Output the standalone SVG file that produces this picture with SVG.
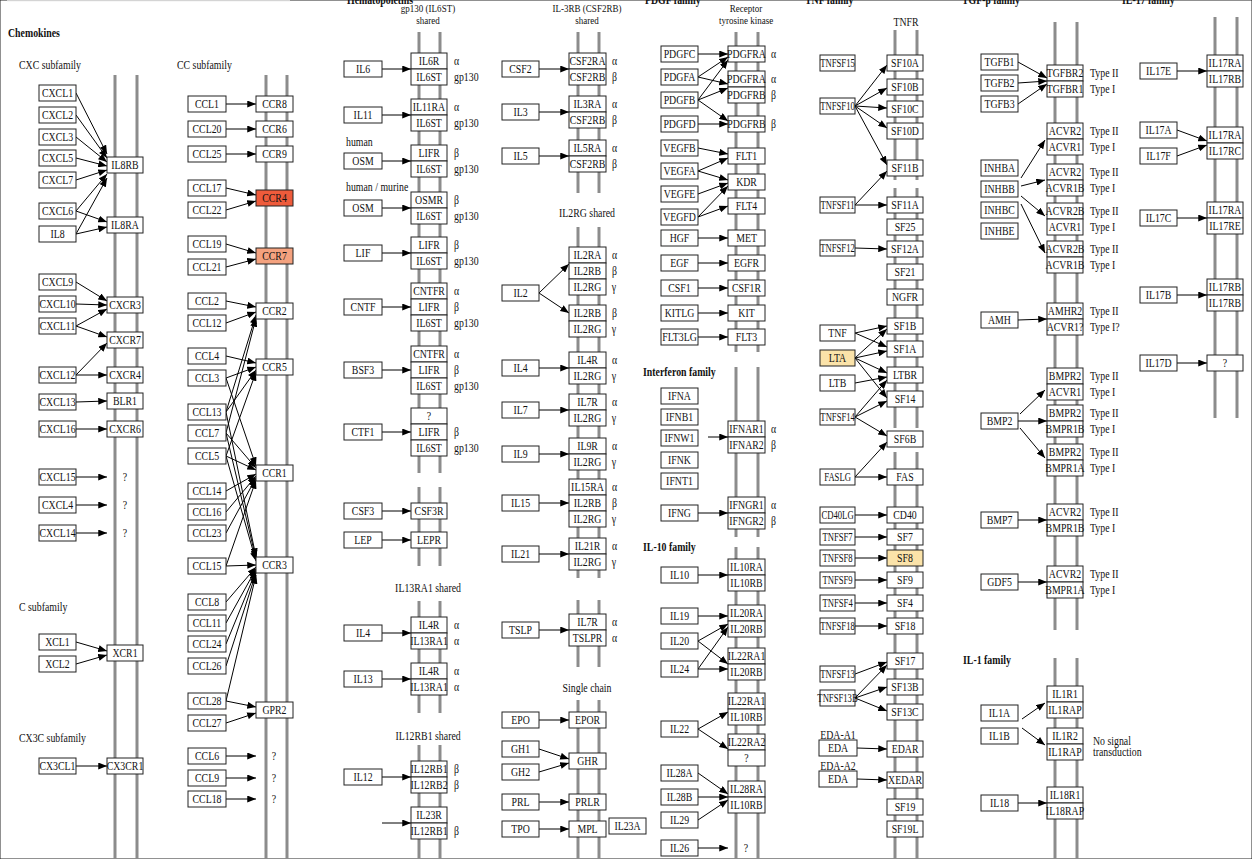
<svg xmlns="http://www.w3.org/2000/svg" width="1252" height="859" viewBox="0 0 1252 859">
<style>
text{font-family:"Liberation Serif","Times New Roman",serif;font-size:12px;fill:#111}
.c{text-anchor:middle;transform-box:fill-box;transform-origin:center;transform:scaleX(.82)}
.l{transform-box:fill-box;transform-origin:left center;transform:scaleX(.82)}
.n{text-anchor:middle;transform-box:fill-box;transform-origin:center;transform:scaleX(.72)}
.s{font-size:11px}
.h{font-weight:bold}
rect{fill:#fff;stroke:#222;stroke-width:1}
rect.red{fill:#ee5b3b}rect.sal{fill:#f4a27f}rect.tan{fill:#fbe3a9}
rect.top{fill:#d4d4d4;stroke:none}
.mem line{stroke:#8c8c8c;stroke-width:3}
#connectors line{stroke:#000;stroke-width:1;marker-end:url(#ah)}
</style>
<defs>
<marker id="ah" viewBox="0 0 10 8" refX="10" refY="4" markerWidth="9" markerHeight="7" markerUnits="userSpaceOnUse" orient="auto"><path d="M0,0L10,4L0,8z" fill="#000"/></marker>
</defs>
<rect width="1252" height="859" fill="#fff" stroke="none"/>
<rect class="top" x="7" y="0" width="283" height="1.2"/>
<g id="labels">
<text class="l h" x="8" y="37">Chemokines</text>
<text class="l" x="19" y="69">CXC subfamily</text>
<text class="l" x="177" y="69">CC subfamily</text>
<text class="l" x="19" y="611">C subfamily</text>
<text class="l" x="19" y="742">CX3C subfamily</text>
<text class="l h" x="347" y="4">Hematopoietins</text>
<text class="c s" x="428" y="12">gp130 (IL6ST)</text>
<text class="c s" x="428" y="24.5">shared</text>
<text class="l" x="346" y="146">human</text>
<text class="l" x="346" y="191">human / murine</text>
<text class="c" x="428" y="592">IL13RA1 shared</text>
<text class="c" x="428" y="740">IL12RB1 shared</text>
<text class="c s" x="587" y="12">IL-3RB (CSF2RB)</text>
<text class="c s" x="587" y="24.5">shared</text>
<text class="c" x="587" y="217">IL2RG shared</text>
<text class="c" x="587" y="692">Single chain</text>
<text class="l h" x="645" y="4">PDGF family</text>
<text class="c s" x="746" y="12">Receptor</text>
<text class="c s" x="746" y="24.5">tyrosine kinase</text>
<text class="l h" x="643" y="376">Interferon family</text>
<text class="l h" x="643" y="551">IL-10 family</text>
<text class="l h" x="805" y="4">TNF family</text>
<text class="c" x="906" y="26">TNFR</text>
<text class="c" x="838" y="739">EDA-A1</text>
<text class="c" x="838" y="770">EDA-A2</text>
<text class="l h" x="962" y="4">TGF-β family</text>
<text class="l h" x="1122" y="4">IL-17 family</text>
<text class="l h" x="963" y="664">IL-1 family</text>
<text class="l" x="1093" y="745">No signal</text>
<text class="l" x="1093" y="756">transduction</text>
<text class="c" x="125" y="481">?</text><text class="c" x="125" y="509">?</text><text class="c" x="125" y="537">?</text>
<text class="c" x="274" y="760">?</text><text class="c" x="274" y="782">?</text><text class="c" x="274" y="803">?</text>
<text class="c" x="746" y="852">?</text>
</g>
<g class="mem" id="membranes">
<line x1="115" y1="75" x2="115" y2="859"/><line x1="137" y1="75" x2="137" y2="859"/>
<line x1="266" y1="75" x2="266" y2="859"/><line x1="287" y1="75" x2="287" y2="859"/>
<line x1="419" y1="32" x2="419" y2="473"/><line x1="440" y1="32" x2="440" y2="473"/>
<line x1="419" y1="487" x2="419" y2="566"/><line x1="440" y1="487" x2="440" y2="566"/>
<line x1="419" y1="601" x2="419" y2="713"/><line x1="440" y1="601" x2="440" y2="713"/>
<line x1="419" y1="745" x2="419" y2="859"/><line x1="440" y1="745" x2="440" y2="859"/>
<line x1="578" y1="32" x2="578" y2="193"/><line x1="599" y1="32" x2="599" y2="193"/>
<line x1="578" y1="227" x2="578" y2="578"/><line x1="599" y1="227" x2="599" y2="578"/>
<line x1="578" y1="600" x2="578" y2="667"/><line x1="599" y1="600" x2="599" y2="667"/>
<line x1="578" y1="700" x2="578" y2="859"/><line x1="599" y1="700" x2="599" y2="859"/>
<line x1="736" y1="32" x2="736" y2="352"/><line x1="758" y1="32" x2="758" y2="352"/>
<line x1="736" y1="367" x2="736" y2="537"/><line x1="758" y1="367" x2="758" y2="537"/>
<line x1="736" y1="547" x2="736" y2="859"/><line x1="758" y1="547" x2="758" y2="859"/>
<line x1="895" y1="30" x2="895" y2="180"/><line x1="917" y1="30" x2="917" y2="180"/>
<line x1="895" y1="188" x2="895" y2="428"/><line x1="917" y1="188" x2="917" y2="428"/>
<line x1="895" y1="452" x2="895" y2="859"/><line x1="917" y1="452" x2="917" y2="859"/>
<line x1="1055" y1="22" x2="1055" y2="630"/><line x1="1077" y1="22" x2="1077" y2="630"/>
<line x1="1055" y1="658" x2="1055" y2="859"/><line x1="1077" y1="658" x2="1077" y2="859"/>
<line x1="1215" y1="17" x2="1215" y2="418"/><line x1="1237" y1="17" x2="1237" y2="418"/>
</g>
<g id="connectors">
<line x1="76" y1="93" x2="107" y2="154"/><line x1="76" y1="115" x2="107" y2="158"/><line x1="76" y1="137" x2="107" y2="162"/>
<line x1="76" y1="158" x2="107" y2="166"/><line x1="76" y1="180" x2="107" y2="170"/><line x1="76" y1="211" x2="107" y2="174"/>
<line x1="76" y1="234" x2="107" y2="178"/><line x1="76" y1="211" x2="107" y2="222"/><line x1="76" y1="234" x2="107" y2="227"/>
<line x1="76" y1="282" x2="107" y2="301"/><line x1="76" y1="304" x2="107" y2="305"/><line x1="76" y1="326" x2="107" y2="309"/>
<line x1="76" y1="326" x2="107" y2="337"/><line x1="76" y1="375" x2="107" y2="343"/><line x1="76" y1="375" x2="107" y2="375"/>
<line x1="76" y1="402" x2="107" y2="401"/><line x1="76" y1="429" x2="107" y2="429"/><line x1="76" y1="477" x2="107" y2="477"/>
<line x1="76" y1="505" x2="107" y2="505"/><line x1="76" y1="533" x2="107" y2="533"/><line x1="76" y1="642" x2="107" y2="651"/>
<line x1="76" y1="664" x2="107" y2="655"/><line x1="76" y1="766" x2="107" y2="766"/>
<line x1="226" y1="104" x2="256" y2="104"/><line x1="226" y1="129" x2="256" y2="129"/><line x1="226" y1="154" x2="256" y2="154"/>
<line x1="226" y1="188" x2="256" y2="195"/><line x1="226" y1="210" x2="256" y2="201"/><line x1="226" y1="244" x2="256" y2="253"/>
<line x1="226" y1="267" x2="256" y2="259"/><line x1="226" y1="301" x2="256" y2="307"/><line x1="226" y1="323" x2="256" y2="312"/>
<line x1="226" y1="412" x2="256" y2="315"/><line x1="226" y1="433" x2="256" y2="318"/>
<line x1="226" y1="356" x2="256" y2="363"/><line x1="226" y1="378" x2="256" y2="367"/><line x1="226" y1="412" x2="256" y2="370"/>
<line x1="226" y1="456" x2="256" y2="372"/>
<line x1="226" y1="378" x2="256" y2="466"/><line x1="226" y1="433" x2="256" y2="468"/><line x1="226" y1="456" x2="256" y2="470"/>
<line x1="226" y1="491" x2="256" y2="474"/><line x1="226" y1="512" x2="256" y2="476"/><line x1="226" y1="533" x2="256" y2="478"/>
<line x1="226" y1="566" x2="256" y2="480"/>
<line x1="226" y1="412" x2="256" y2="557"/><line x1="226" y1="433" x2="256" y2="559"/><line x1="226" y1="456" x2="256" y2="561"/>
<line x1="226" y1="566" x2="256" y2="565"/><line x1="226" y1="602" x2="256" y2="567"/><line x1="226" y1="623" x2="256" y2="569"/>
<line x1="226" y1="644" x2="256" y2="571"/><line x1="226" y1="666" x2="256" y2="573"/><line x1="226" y1="701" x2="256" y2="575"/>
<line x1="226" y1="701" x2="256" y2="707"/><line x1="226" y1="723" x2="256" y2="713"/>
<line x1="226" y1="756" x2="256" y2="756"/><line x1="226" y1="778" x2="256" y2="778"/><line x1="226" y1="799" x2="256" y2="799"/>
<line x1="382" y1="69" x2="411" y2="69"/><line x1="382" y1="115" x2="411" y2="115"/><line x1="382" y1="161" x2="411" y2="161"/>
<line x1="382" y1="208" x2="411" y2="208"/><line x1="382" y1="253" x2="411" y2="253"/><line x1="382" y1="307" x2="411" y2="307"/>
<line x1="382" y1="370" x2="411" y2="370"/><line x1="382" y1="432" x2="411" y2="432"/><line x1="382" y1="511" x2="411" y2="511"/>
<line x1="382" y1="540" x2="411" y2="540"/><line x1="382" y1="633" x2="411" y2="633"/><line x1="382" y1="679" x2="411" y2="679"/>
<line x1="382" y1="777" x2="411" y2="777"/><line x1="382" y1="823" x2="411" y2="823"/>
<line x1="539" y1="69" x2="569" y2="69"/><line x1="539" y1="112" x2="569" y2="112"/><line x1="539" y1="156" x2="569" y2="156"/>
<line x1="539" y1="293" x2="569" y2="264"/><line x1="539" y1="293" x2="569" y2="313"/>
<line x1="539" y1="368" x2="569" y2="368"/><line x1="539" y1="410" x2="569" y2="410"/><line x1="539" y1="454" x2="569" y2="454"/>
<line x1="539" y1="503" x2="569" y2="503"/><line x1="539" y1="554" x2="569" y2="554"/><line x1="539" y1="630" x2="569" y2="630"/>
<line x1="539" y1="720" x2="569" y2="720"/><line x1="539" y1="749" x2="569" y2="759"/><line x1="539" y1="772" x2="569" y2="763"/>
<line x1="539" y1="802" x2="569" y2="802"/><line x1="539" y1="829" x2="569" y2="829"/>
<line x1="698" y1="54" x2="728" y2="54"/><line x1="698" y1="77" x2="728" y2="57"/><line x1="698" y1="77" x2="728" y2="84"/>
<line x1="698" y1="100" x2="728" y2="60"/><line x1="698" y1="100" x2="728" y2="88"/><line x1="698" y1="100" x2="728" y2="121"/>
<line x1="698" y1="124" x2="728" y2="124"/><line x1="698" y1="148" x2="728" y2="154"/><line x1="698" y1="171" x2="728" y2="158"/>
<line x1="698" y1="171" x2="728" y2="180"/><line x1="698" y1="194" x2="728" y2="183"/><line x1="698" y1="217" x2="728" y2="186"/>
<line x1="698" y1="217" x2="728" y2="206"/><line x1="698" y1="238" x2="728" y2="238"/><line x1="698" y1="263" x2="728" y2="263"/>
<line x1="698" y1="288" x2="728" y2="288"/><line x1="698" y1="313" x2="728" y2="313"/><line x1="698" y1="337" x2="728" y2="337"/>
<line x1="708" y1="437" x2="728" y2="437"/><line x1="698" y1="513" x2="728" y2="513"/><line x1="698" y1="575" x2="728" y2="575"/>
<line x1="698" y1="616" x2="728" y2="616"/><line x1="698" y1="641" x2="728" y2="624"/><line x1="698" y1="641" x2="728" y2="664"/>
<line x1="698" y1="669" x2="728" y2="627"/><line x1="698" y1="669" x2="728" y2="669"/><line x1="698" y1="729" x2="728" y2="712"/>
<line x1="698" y1="729" x2="728" y2="749"/><line x1="698" y1="773" x2="728" y2="794"/><line x1="698" y1="797" x2="728" y2="797"/>
<line x1="698" y1="820" x2="728" y2="800"/><line x1="698" y1="848" x2="728" y2="848"/>
<line x1="855" y1="106" x2="887" y2="65"/><line x1="855" y1="106" x2="887" y2="88"/><line x1="855" y1="106" x2="887" y2="108"/>
<line x1="855" y1="106" x2="887" y2="128"/><line x1="855" y1="106" x2="887" y2="165"/><line x1="855" y1="205" x2="887" y2="171"/>
<line x1="855" y1="205" x2="887" y2="205"/><line x1="855" y1="248" x2="887" y2="249"/><line x1="855" y1="333" x2="887" y2="326"/>
<line x1="855" y1="333" x2="887" y2="347"/><line x1="855" y1="358" x2="887" y2="329"/><line x1="855" y1="358" x2="887" y2="351"/>
<line x1="855" y1="358" x2="887" y2="373"/><line x1="855" y1="358" x2="887" y2="398"/><line x1="855" y1="383" x2="887" y2="377"/>
<line x1="855" y1="417" x2="887" y2="380"/><line x1="855" y1="417" x2="887" y2="401"/><line x1="855" y1="417" x2="887" y2="436"/>
<line x1="855" y1="477" x2="887" y2="442"/><line x1="855" y1="477" x2="887" y2="477"/><line x1="855" y1="515" x2="887" y2="515"/>
<line x1="855" y1="537" x2="887" y2="537"/><line x1="855" y1="558" x2="887" y2="558"/><line x1="855" y1="580" x2="887" y2="580"/>
<line x1="855" y1="603" x2="887" y2="603"/><line x1="855" y1="626" x2="887" y2="626"/><line x1="855" y1="674" x2="887" y2="662"/>
<line x1="855" y1="698" x2="887" y2="665"/><line x1="855" y1="698" x2="887" y2="687"/><line x1="855" y1="698" x2="887" y2="711"/>
<line x1="857" y1="748" x2="887" y2="749"/><line x1="857" y1="779" x2="887" y2="780"/>
<line x1="1018" y1="62" x2="1047" y2="78"/><line x1="1018" y1="83" x2="1047" y2="81"/><line x1="1018" y1="104" x2="1047" y2="84"/>
<line x1="1021" y1="178" x2="1045" y2="140"/><line x1="1021" y1="186" x2="1045" y2="180"/><line x1="1021" y1="196" x2="1045" y2="216"/>
<line x1="1021" y1="204" x2="1045" y2="253"/><line x1="1018" y1="320" x2="1047" y2="319"/><line x1="1020" y1="414" x2="1045" y2="390"/>
<line x1="1018" y1="421" x2="1047" y2="421"/><line x1="1020" y1="428" x2="1045" y2="458"/><line x1="1018" y1="520" x2="1047" y2="520"/>
<line x1="1018" y1="582" x2="1047" y2="582"/><line x1="1022" y1="719" x2="1045" y2="703"/><line x1="1022" y1="728" x2="1045" y2="745"/>
<line x1="1018" y1="803" x2="1047" y2="803"/>
<line x1="1177" y1="71" x2="1207" y2="71"/><line x1="1177" y1="130" x2="1207" y2="141"/><line x1="1177" y1="156" x2="1207" y2="145"/>
<line x1="1177" y1="218" x2="1207" y2="218"/><line x1="1177" y1="295" x2="1207" y2="295"/><line x1="1177" y1="363" x2="1207" y2="363"/>
</g>
<g id="cxc-ligands">
<g id="CXCL1"><rect x="39" y="85" width="37" height="16"/><text class="c" x="57.5" y="97">CXCL1</text></g>
<g id="CXCL2"><rect x="39" y="107" width="37" height="16"/><text class="c" x="57.5" y="119">CXCL2</text></g>
<g id="CXCL3"><rect x="39" y="129" width="37" height="16"/><text class="c" x="57.5" y="141">CXCL3</text></g>
<g id="CXCL5"><rect x="39" y="150" width="37" height="16"/><text class="c" x="57.5" y="162">CXCL5</text></g>
<g id="CXCL7"><rect x="39" y="172" width="37" height="16"/><text class="c" x="57.5" y="184">CXCL7</text></g>
<g id="CXCL6"><rect x="39" y="203" width="37" height="16"/><text class="c" x="57.5" y="215">CXCL6</text></g>
<g id="IL8"><rect x="39" y="226" width="37" height="16"/><text class="c" x="57.5" y="238">IL8</text></g>
<g id="CXCL9"><rect x="39" y="274" width="37" height="16"/><text class="c" x="57.5" y="286">CXCL9</text></g>
<g id="CXCL10"><rect x="39" y="296" width="37" height="16"/><text class="c" x="57.5" y="308">CXCL10</text></g>
<g id="CXCL11"><rect x="39" y="318" width="37" height="16"/><text class="c" x="57.5" y="330">CXCL11</text></g>
<g id="CXCL12"><rect x="39" y="367" width="37" height="16"/><text class="c" x="57.5" y="379">CXCL12</text></g>
<g id="CXCL13"><rect x="39" y="394" width="37" height="16"/><text class="c" x="57.5" y="406">CXCL13</text></g>
<g id="CXCL16"><rect x="39" y="421" width="37" height="16"/><text class="c" x="57.5" y="433">CXCL16</text></g>
<g id="CXCL15"><rect x="39" y="469" width="37" height="16"/><text class="c" x="57.5" y="481">CXCL15</text></g>
<g id="CXCL4"><rect x="39" y="497" width="37" height="16"/><text class="c" x="57.5" y="509">CXCL4</text></g>
<g id="CXCL14"><rect x="39" y="525" width="37" height="16"/><text class="c" x="57.5" y="537">CXCL14</text></g>
<g id="XCL1"><rect x="39" y="634" width="37" height="16"/><text class="c" x="57.5" y="646">XCL1</text></g>
<g id="XCL2"><rect x="39" y="656" width="37" height="16"/><text class="c" x="57.5" y="668">XCL2</text></g>
<g id="CX3CL1"><rect x="39" y="758" width="37" height="16"/><text class="c" x="57.5" y="770">CX3CL1</text></g>
</g>
<g id="cxc-receptors">
<g id="IL8RB"><rect x="107" y="157" width="36" height="16"/><text class="c" x="125" y="169">IL8RB</text></g>
<g id="IL8RA"><rect x="107" y="217" width="36" height="16"/><text class="c" x="125" y="229">IL8RA</text></g>
<g id="CXCR3"><rect x="107" y="297" width="36" height="16"/><text class="c" x="125" y="309">CXCR3</text></g>
<g id="CXCR7"><rect x="107" y="332" width="36" height="16"/><text class="c" x="125" y="344">CXCR7</text></g>
<g id="CXCR4"><rect x="107" y="367" width="36" height="16"/><text class="c" x="125" y="379">CXCR4</text></g>
<g id="BLR1"><rect x="107" y="393" width="36" height="16"/><text class="c" x="125" y="405">BLR1</text></g>
<g id="CXCR6"><rect x="107" y="421" width="36" height="16"/><text class="c" x="125" y="433">CXCR6</text></g>
<g id="XCR1"><rect x="107" y="645" width="36" height="16"/><text class="c" x="125" y="657">XCR1</text></g>
<g id="CX3CR1"><rect x="107" y="758" width="36" height="16"/><text class="c" x="125" y="770">CX3CR1</text></g>
</g>
<g id="cc-ligands">
<g id="CCL1"><rect x="188" y="96" width="38" height="16"/><text class="c" x="207" y="108">CCL1</text></g>
<g id="CCL20"><rect x="188" y="121" width="38" height="16"/><text class="c" x="207" y="133">CCL20</text></g>
<g id="CCL25"><rect x="188" y="146" width="38" height="16"/><text class="c" x="207" y="158">CCL25</text></g>
<g id="CCL17"><rect x="188" y="180" width="38" height="16"/><text class="c" x="207" y="192">CCL17</text></g>
<g id="CCL22"><rect x="188" y="202" width="38" height="16"/><text class="c" x="207" y="214">CCL22</text></g>
<g id="CCL19"><rect x="188" y="236" width="38" height="16"/><text class="c" x="207" y="248">CCL19</text></g>
<g id="CCL21"><rect x="188" y="259" width="38" height="16"/><text class="c" x="207" y="271">CCL21</text></g>
<g id="CCL2"><rect x="188" y="293" width="38" height="16"/><text class="c" x="207" y="305">CCL2</text></g>
<g id="CCL12"><rect x="188" y="315" width="38" height="16"/><text class="c" x="207" y="327">CCL12</text></g>
<g id="CCL4"><rect x="188" y="348" width="38" height="16"/><text class="c" x="207" y="360">CCL4</text></g>
<g id="CCL3"><rect x="188" y="370" width="38" height="16"/><text class="c" x="207" y="382">CCL3</text></g>
<g id="CCL13"><rect x="188" y="404" width="38" height="16"/><text class="c" x="207" y="416">CCL13</text></g>
<g id="CCL7"><rect x="188" y="425" width="38" height="16"/><text class="c" x="207" y="437">CCL7</text></g>
<g id="CCL5"><rect x="188" y="448" width="38" height="16"/><text class="c" x="207" y="460">CCL5</text></g>
<g id="CCL14"><rect x="188" y="483" width="38" height="16"/><text class="c" x="207" y="495">CCL14</text></g>
<g id="CCL16"><rect x="188" y="504" width="38" height="16"/><text class="c" x="207" y="516">CCL16</text></g>
<g id="CCL23"><rect x="188" y="525" width="38" height="16"/><text class="c" x="207" y="537">CCL23</text></g>
<g id="CCL15"><rect x="188" y="558" width="38" height="16"/><text class="c" x="207" y="570">CCL15</text></g>
<g id="CCL8"><rect x="188" y="594" width="38" height="16"/><text class="c" x="207" y="606">CCL8</text></g>
<g id="CCL11"><rect x="188" y="615" width="38" height="16"/><text class="c" x="207" y="627">CCL11</text></g>
<g id="CCL24"><rect x="188" y="636" width="38" height="16"/><text class="c" x="207" y="648">CCL24</text></g>
<g id="CCL26"><rect x="188" y="658" width="38" height="16"/><text class="c" x="207" y="670">CCL26</text></g>
<g id="CCL28"><rect x="188" y="693" width="38" height="16"/><text class="c" x="207" y="705">CCL28</text></g>
<g id="CCL27"><rect x="188" y="715" width="38" height="16"/><text class="c" x="207" y="727">CCL27</text></g>
<g id="CCL6"><rect x="188" y="748" width="38" height="16"/><text class="c" x="207" y="760">CCL6</text></g>
<g id="CCL9"><rect x="188" y="770" width="38" height="16"/><text class="c" x="207" y="782">CCL9</text></g>
<g id="CCL18"><rect x="188" y="791" width="38" height="16"/><text class="c" x="207" y="803">CCL18</text></g>
</g>
<g id="cc-receptors">
<g id="CCR8"><rect x="256" y="96" width="37" height="16"/><text class="c" x="274.5" y="108">CCR8</text></g>
<g id="CCR6"><rect x="256" y="121" width="37" height="16"/><text class="c" x="274.5" y="133">CCR6</text></g>
<g id="CCR9"><rect x="256" y="146" width="37" height="16"/><text class="c" x="274.5" y="158">CCR9</text></g>
<g id="CCR4"><rect class="red" x="256" y="190" width="37" height="16"/><text class="c" x="274.5" y="202">CCR4</text></g>
<g id="CCR7"><rect class="sal" x="256" y="248" width="37" height="16"/><text class="c" x="274.5" y="260">CCR7</text></g>
<g id="CCR2"><rect x="256" y="303" width="37" height="16"/><text class="c" x="274.5" y="315">CCR2</text></g>
<g id="CCR5"><rect x="256" y="359" width="37" height="16"/><text class="c" x="274.5" y="371">CCR5</text></g>
<g id="CCR1"><rect x="256" y="465" width="37" height="16"/><text class="c" x="274.5" y="477">CCR1</text></g>
<g id="CCR3"><rect x="256" y="557" width="37" height="16"/><text class="c" x="274.5" y="569">CCR3</text></g>
<g id="GPR2"><rect x="256" y="702" width="37" height="16"/><text class="c" x="274.5" y="714">GPR2</text></g>
</g>
<g id="hemato-ligands">
<g id="IL6"><rect x="344" y="61" width="38" height="16"/><text class="c" x="363" y="73">IL6</text></g>
<g id="IL11"><rect x="344" y="107" width="38" height="16"/><text class="c" x="363" y="119">IL11</text></g>
<g id="OSM-h"><rect x="344" y="153" width="38" height="16"/><text class="c" x="363" y="165">OSM</text></g>
<g id="OSM-m"><rect x="344" y="200" width="38" height="16"/><text class="c" x="363" y="212">OSM</text></g>
<g id="LIF"><rect x="344" y="245" width="38" height="16"/><text class="c" x="363" y="257">LIF</text></g>
<g id="CNTF"><rect x="344" y="299" width="38" height="16"/><text class="c" x="363" y="311">CNTF</text></g>
<g id="BSF3"><rect x="344" y="362" width="38" height="16"/><text class="c" x="363" y="374">BSF3</text></g>
<g id="CTF1"><rect x="344" y="424" width="38" height="16"/><text class="c" x="363" y="436">CTF1</text></g>
<g id="CSF3"><rect x="344" y="503" width="38" height="16"/><text class="c" x="363" y="515">CSF3</text></g>
<g id="LEP"><rect x="344" y="532" width="38" height="16"/><text class="c" x="363" y="544">LEP</text></g>
<g id="IL4-a"><rect x="344" y="625" width="38" height="16"/><text class="c" x="363" y="637">IL4</text></g>
<g id="IL13"><rect x="344" y="671" width="38" height="16"/><text class="c" x="363" y="683">IL13</text></g>
<g id="IL12"><rect x="344" y="769" width="38" height="16"/><text class="c" x="363" y="781">IL12</text></g>
</g>
<g id="hemato-receptors">
<g id="IL6R-cx"><rect x="411" y="53" width="36" height="16"/><rect x="411" y="69" width="36" height="16"/><text class="c" x="429" y="65">IL6R</text><text class="c" x="429" y="81">IL6ST</text><text class="l" x="454" y="65">α</text><text class="l" x="454" y="81">gp130</text></g>
<g id="IL11RA-cx"><rect x="411" y="99" width="36" height="16"/><rect x="411" y="115" width="36" height="16"/><text class="c" x="429" y="111">IL11RA</text><text class="c" x="429" y="127">IL6ST</text><text class="l" x="454" y="111">α</text><text class="l" x="454" y="127">gp130</text></g>
<g id="LIFR-cx1"><rect x="411" y="145" width="36" height="16"/><rect x="411" y="161" width="36" height="16"/><text class="c" x="429" y="157">LIFR</text><text class="c" x="429" y="173">IL6ST</text><text class="l" x="454" y="157">β</text><text class="l" x="454" y="173">gp130</text></g>
<g id="OSMR-cx"><rect x="411" y="192" width="36" height="16"/><rect x="411" y="208" width="36" height="16"/><text class="c" x="429" y="204">OSMR</text><text class="c" x="429" y="220">IL6ST</text><text class="l" x="454" y="204">β</text><text class="l" x="454" y="220">gp130</text></g>
<g id="LIFR-cx2"><rect x="411" y="237" width="36" height="16"/><rect x="411" y="253" width="36" height="16"/><text class="c" x="429" y="249">LIFR</text><text class="c" x="429" y="265">IL6ST</text><text class="l" x="454" y="249">β</text><text class="l" x="454" y="265">gp130</text></g>
<g id="CNTFR-cx1"><rect x="411" y="283" width="36" height="16"/><rect x="411" y="299" width="36" height="16"/><rect x="411" y="315" width="36" height="16"/><text class="c" x="429" y="295">CNTFR</text><text class="c" x="429" y="311">LIFR</text><text class="c" x="429" y="327">IL6ST</text><text class="l" x="454" y="295">α</text><text class="l" x="454" y="311">β</text><text class="l" x="454" y="327">gp130</text></g>
<g id="CNTFR-cx2"><rect x="411" y="346" width="36" height="16"/><rect x="411" y="362" width="36" height="16"/><rect x="411" y="378" width="36" height="16"/><text class="c" x="429" y="358">CNTFR</text><text class="c" x="429" y="374">LIFR</text><text class="c" x="429" y="390">IL6ST</text><text class="l" x="454" y="358">α</text><text class="l" x="454" y="374">β</text><text class="l" x="454" y="390">gp130</text></g>
<g id="CTF1R-cx"><rect x="411" y="408" width="36" height="16"/><rect x="411" y="424" width="36" height="16"/><rect x="411" y="440" width="36" height="16"/><text class="c" x="429" y="420">?</text><text class="c" x="429" y="436">LIFR</text><text class="c" x="429" y="452">IL6ST</text><text class="l" x="454" y="436">β</text><text class="l" x="454" y="452">gp130</text></g>
<g id="CSF3R"><rect x="411" y="503" width="36" height="16"/><text class="c" x="429" y="515">CSF3R</text></g>
<g id="LEPR"><rect x="411" y="532" width="36" height="16"/><text class="c" x="429" y="544">LEPR</text></g>
<g id="IL4R-cx1"><rect x="411" y="617" width="36" height="16"/><rect x="411" y="633" width="36" height="16"/><text class="c" x="429" y="629">IL4R</text><text class="c" x="429" y="645">IL13RA1</text><text class="l" x="454" y="629">α</text><text class="l" x="454" y="645">α</text></g>
<g id="IL4R-cx2"><rect x="411" y="663" width="36" height="16"/><rect x="411" y="679" width="36" height="16"/><text class="c" x="429" y="675">IL4R</text><text class="c" x="429" y="691">IL13RA1</text><text class="l" x="454" y="675">α</text><text class="l" x="454" y="691">α</text></g>
<g id="IL12RB-cx"><rect x="411" y="761" width="36" height="16"/><rect x="411" y="777" width="36" height="16"/><text class="c" x="429" y="773">IL12RB1</text><text class="c" x="429" y="789">IL12RB2</text><text class="l" x="454" y="773">β</text><text class="l" x="454" y="789">β</text></g>
<g id="IL23R-cx"><rect x="411" y="807" width="36" height="16"/><rect x="411" y="823" width="36" height="16"/><text class="c" x="429" y="819">IL23R</text><text class="c" x="429" y="835">IL12RB1</text><text class="l" x="454" y="835">β</text></g>
</g>
<g id="il3-il2-ligands">
<g id="CSF2"><rect x="502" y="61" width="37" height="16"/><text class="c" x="520.5" y="73">CSF2</text></g>
<g id="IL3"><rect x="502" y="104" width="37" height="16"/><text class="c" x="520.5" y="116">IL3</text></g>
<g id="IL5"><rect x="502" y="148" width="37" height="16"/><text class="c" x="520.5" y="160">IL5</text></g>
<g id="IL2"><rect x="502" y="285" width="37" height="16"/><text class="c" x="520.5" y="297">IL2</text></g>
<g id="IL4-b"><rect x="502" y="360" width="37" height="16"/><text class="c" x="520.5" y="372">IL4</text></g>
<g id="IL7"><rect x="502" y="402" width="37" height="16"/><text class="c" x="520.5" y="414">IL7</text></g>
<g id="IL9"><rect x="502" y="446" width="37" height="16"/><text class="c" x="520.5" y="458">IL9</text></g>
<g id="IL15"><rect x="502" y="495" width="37" height="16"/><text class="c" x="520.5" y="507">IL15</text></g>
<g id="IL21"><rect x="502" y="546" width="37" height="16"/><text class="c" x="520.5" y="558">IL21</text></g>
<g id="TSLP"><rect x="502" y="622" width="37" height="16"/><text class="c" x="520.5" y="634">TSLP</text></g>
<g id="EPO"><rect x="502" y="712" width="37" height="16"/><text class="c" x="520.5" y="724">EPO</text></g>
<g id="GH1"><rect x="502" y="741" width="37" height="16"/><text class="c" x="520.5" y="753">GH1</text></g>
<g id="GH2"><rect x="502" y="764" width="37" height="16"/><text class="c" x="520.5" y="776">GH2</text></g>
<g id="PRL"><rect x="502" y="794" width="37" height="16"/><text class="c" x="520.5" y="806">PRL</text></g>
<g id="TPO"><rect x="502" y="821" width="37" height="16"/><text class="c" x="520.5" y="833">TPO</text></g>
</g>
<g id="il3-il2-receptors">
<g id="CSF2R-cx"><rect x="569" y="53" width="37" height="16"/><rect x="569" y="69" width="37" height="16"/><text class="c" x="587.5" y="65">CSF2RA</text><text class="c" x="587.5" y="81">CSF2RB</text><text class="l" x="612" y="65">α</text><text class="l" x="612" y="81">β</text></g>
<g id="IL3R-cx"><rect x="569" y="96" width="37" height="16"/><rect x="569" y="112" width="37" height="16"/><text class="c" x="587.5" y="108">IL3RA</text><text class="c" x="587.5" y="124">CSF2RB</text><text class="l" x="612" y="108">α</text><text class="l" x="612" y="124">β</text></g>
<g id="IL5R-cx"><rect x="569" y="140" width="37" height="16"/><rect x="569" y="156" width="37" height="16"/><text class="c" x="587.5" y="152">IL5RA</text><text class="c" x="587.5" y="168">CSF2RB</text><text class="l" x="612" y="152">α</text><text class="l" x="612" y="168">β</text></g>
<g id="IL2R-cx1"><rect x="569" y="247" width="37" height="16"/><rect x="569" y="263" width="37" height="16"/><rect x="569" y="279" width="37" height="16"/><text class="c" x="587.5" y="259">IL2RA</text><text class="c" x="587.5" y="275">IL2RB</text><text class="c" x="587.5" y="291">IL2RG</text><text class="l" x="612" y="259">α</text><text class="l" x="612" y="275">β</text><text class="l" x="612" y="291">γ</text></g>
<g id="IL2R-cx2"><rect x="569" y="305" width="37" height="16"/><rect x="569" y="321" width="37" height="16"/><text class="c" x="587.5" y="317">IL2RB</text><text class="c" x="587.5" y="333">IL2RG</text><text class="l" x="612" y="317">β</text><text class="l" x="612" y="333">γ</text></g>
<g id="IL4R-cx3"><rect x="569" y="352" width="37" height="16"/><rect x="569" y="368" width="37" height="16"/><text class="c" x="587.5" y="364">IL4R</text><text class="c" x="587.5" y="380">IL2RG</text><text class="l" x="612" y="364">α</text><text class="l" x="612" y="380">γ</text></g>
<g id="IL7R-cx1"><rect x="569" y="394" width="37" height="16"/><rect x="569" y="410" width="37" height="16"/><text class="c" x="587.5" y="406">IL7R</text><text class="c" x="587.5" y="422">IL2RG</text><text class="l" x="612" y="406">α</text><text class="l" x="612" y="422">γ</text></g>
<g id="IL9R-cx"><rect x="569" y="438" width="37" height="16"/><rect x="569" y="454" width="37" height="16"/><text class="c" x="587.5" y="450">IL9R</text><text class="c" x="587.5" y="466">IL2RG</text><text class="l" x="612" y="450">α</text><text class="l" x="612" y="466">γ</text></g>
<g id="IL15R-cx"><rect x="569" y="479" width="37" height="16"/><rect x="569" y="495" width="37" height="16"/><rect x="569" y="511" width="37" height="16"/><text class="c" x="587.5" y="491">IL15RA</text><text class="c" x="587.5" y="507">IL2RB</text><text class="c" x="587.5" y="523">IL2RG</text><text class="l" x="612" y="491">α</text><text class="l" x="612" y="507">β</text><text class="l" x="612" y="523">γ</text></g>
<g id="IL21R-cx"><rect x="569" y="538" width="37" height="16"/><rect x="569" y="554" width="37" height="16"/><text class="c" x="587.5" y="550">IL21R</text><text class="c" x="587.5" y="566">IL2RG</text><text class="l" x="612" y="550">α</text><text class="l" x="612" y="566">γ</text></g>
<g id="TSLPR-cx"><rect x="569" y="614" width="37" height="16"/><rect x="569" y="630" width="37" height="16"/><text class="c" x="587.5" y="626">IL7R</text><text class="c" x="587.5" y="642">TSLPR</text><text class="l" x="612" y="626">α</text><text class="l" x="612" y="642">α</text></g>
<g id="EPOR"><rect x="569" y="712" width="37" height="16"/><text class="c" x="587.5" y="724">EPOR</text></g>
<g id="GHR"><rect x="569" y="753" width="37" height="16"/><text class="c" x="587.5" y="765">GHR</text></g>
<g id="PRLR"><rect x="569" y="794" width="37" height="16"/><text class="c" x="587.5" y="806">PRLR</text></g>
<g id="MPL"><rect x="569" y="821" width="37" height="16"/><text class="c" x="587.5" y="833">MPL</text></g>
<g id="IL23A"><rect x="609" y="818" width="37" height="16"/><text class="c" x="627.5" y="830">IL23A</text></g>
</g>
<g id="pdgf-ifn-il10-ligands">
<g id="PDGFC"><rect x="661" y="46" width="37" height="16"/><text class="c" x="679.5" y="58">PDGFC</text></g>
<g id="PDGFA"><rect x="661" y="69" width="37" height="16"/><text class="c" x="679.5" y="81">PDGFA</text></g>
<g id="PDGFB"><rect x="661" y="92" width="37" height="16"/><text class="c" x="679.5" y="104">PDGFB</text></g>
<g id="PDGFD"><rect x="661" y="116" width="37" height="16"/><text class="c" x="679.5" y="128">PDGFD</text></g>
<g id="VEGFB"><rect x="661" y="140" width="37" height="16"/><text class="c" x="679.5" y="152">VEGFB</text></g>
<g id="VEGFA"><rect x="661" y="163" width="37" height="16"/><text class="c" x="679.5" y="175">VEGFA</text></g>
<g id="VEGFE"><rect x="661" y="186" width="37" height="16"/><text class="c" x="679.5" y="198">VEGFE</text></g>
<g id="VEGFD"><rect x="661" y="209" width="37" height="16"/><text class="c" x="679.5" y="221">VEGFD</text></g>
<g id="HGF"><rect x="661" y="230" width="37" height="16"/><text class="c" x="679.5" y="242">HGF</text></g>
<g id="EGF"><rect x="661" y="255" width="37" height="16"/><text class="c" x="679.5" y="267">EGF</text></g>
<g id="CSF1"><rect x="661" y="280" width="37" height="16"/><text class="c" x="679.5" y="292">CSF1</text></g>
<g id="KITLG"><rect x="661" y="305" width="37" height="16"/><text class="c" x="679.5" y="317">KITLG</text></g>
<g id="FLT3LG"><rect x="661" y="329" width="37" height="16"/><text class="c" x="679.5" y="341">FLT3LG</text></g>
<g id="IFNA"><rect x="661" y="388" width="37" height="16"/><text class="c" x="679.5" y="400">IFNA</text></g>
<g id="IFNB1"><rect x="661" y="409" width="37" height="16"/><text class="c" x="679.5" y="421">IFNB1</text></g>
<g id="IFNW1"><rect x="661" y="430" width="37" height="16"/><text class="c" x="679.5" y="442">IFNW1</text></g>
<g id="IFNK"><rect x="661" y="452" width="37" height="16"/><text class="c" x="679.5" y="464">IFNK</text></g>
<g id="IFNT1"><rect x="661" y="473" width="37" height="16"/><text class="c" x="679.5" y="485">IFNT1</text></g>
<g id="IFNG"><rect x="661" y="505" width="37" height="16"/><text class="c" x="679.5" y="517">IFNG</text></g>
<g id="IL10"><rect x="661" y="567" width="37" height="16"/><text class="c" x="679.5" y="579">IL10</text></g>
<g id="IL19"><rect x="661" y="608" width="37" height="16"/><text class="c" x="679.5" y="620">IL19</text></g>
<g id="IL20"><rect x="661" y="633" width="37" height="16"/><text class="c" x="679.5" y="645">IL20</text></g>
<g id="IL24"><rect x="661" y="661" width="37" height="16"/><text class="c" x="679.5" y="673">IL24</text></g>
<g id="IL22"><rect x="661" y="721" width="37" height="16"/><text class="c" x="679.5" y="733">IL22</text></g>
<g id="IL28A"><rect x="661" y="765" width="37" height="16"/><text class="c" x="679.5" y="777">IL28A</text></g>
<g id="IL28B"><rect x="661" y="789" width="37" height="16"/><text class="c" x="679.5" y="801">IL28B</text></g>
<g id="IL29"><rect x="661" y="812" width="37" height="16"/><text class="c" x="679.5" y="824">IL29</text></g>
<g id="IL26"><rect x="661" y="840" width="37" height="16"/><text class="c" x="679.5" y="852">IL26</text></g>
</g>
<g id="pdgf-ifn-il10-receptors">
<g id="PDGFRA-1"><rect x="728" y="46" width="37" height="16"/><text class="c" x="746.5" y="58">PDGFRA</text><text class="l" x="771" y="58">α</text></g>
<g id="PDGFR-cx"><rect x="728" y="71" width="37" height="16"/><rect x="728" y="87" width="37" height="16"/><text class="c" x="746.5" y="83">PDGFRA</text><text class="c" x="746.5" y="99">PDGFRB</text><text class="l" x="771" y="83">α</text><text class="l" x="771" y="99">β</text></g>
<g id="PDGFRB-1"><rect x="728" y="116" width="37" height="16"/><text class="c" x="746.5" y="128">PDGFRB</text><text class="l" x="771" y="128">β</text></g>
<g id="FLT1"><rect x="728" y="148" width="37" height="16"/><text class="c" x="746.5" y="160">FLT1</text></g>
<g id="KDR"><rect x="728" y="174" width="37" height="16"/><text class="c" x="746.5" y="186">KDR</text></g>
<g id="FLT4"><rect x="728" y="198" width="37" height="16"/><text class="c" x="746.5" y="210">FLT4</text></g>
<g id="MET"><rect x="728" y="230" width="37" height="16"/><text class="c" x="746.5" y="242">MET</text></g>
<g id="EGFR"><rect x="728" y="255" width="37" height="16"/><text class="c" x="746.5" y="267">EGFR</text></g>
<g id="CSF1R"><rect x="728" y="280" width="37" height="16"/><text class="c" x="746.5" y="292">CSF1R</text></g>
<g id="KIT"><rect x="728" y="305" width="37" height="16"/><text class="c" x="746.5" y="317">KIT</text></g>
<g id="FLT3"><rect x="728" y="329" width="37" height="16"/><text class="c" x="746.5" y="341">FLT3</text></g>
<g id="IFNAR-cx"><rect x="728" y="421" width="37" height="16"/><rect x="728" y="437" width="37" height="16"/><text class="c" x="746.5" y="433">IFNAR1</text><text class="c" x="746.5" y="449">IFNAR2</text><text class="l" x="771" y="433">α</text><text class="l" x="771" y="449">β</text></g>
<g id="IFNGR-cx"><rect x="728" y="497" width="37" height="16"/><rect x="728" y="513" width="37" height="16"/><text class="c" x="746.5" y="509">IFNGR1</text><text class="c" x="746.5" y="525">IFNGR2</text><text class="l" x="771" y="509">α</text><text class="l" x="771" y="525">β</text></g>
<g id="IL10R-cx"><rect x="728" y="559" width="37" height="16"/><rect x="728" y="575" width="37" height="16"/><text class="c" x="746.5" y="571">IL10RA</text><text class="c" x="746.5" y="587">IL10RB</text></g>
<g id="IL20R-cx1"><rect x="728" y="605" width="37" height="16"/><rect x="728" y="621" width="37" height="16"/><text class="c" x="746.5" y="617">IL20RA</text><text class="c" x="746.5" y="633">IL20RB</text></g>
<g id="IL20R-cx2"><rect x="728" y="648" width="37" height="16"/><rect x="728" y="664" width="37" height="16"/><text class="c" x="746.5" y="660">IL22RA1</text><text class="c" x="746.5" y="676">IL20RB</text></g>
<g id="IL22R-cx1"><rect x="728" y="693" width="37" height="16"/><rect x="728" y="709" width="37" height="16"/><text class="c" x="746.5" y="705">IL22RA1</text><text class="c" x="746.5" y="721">IL10RB</text></g>
<g id="IL22R-cx2"><rect x="728" y="734" width="37" height="16"/><rect x="728" y="750" width="37" height="16"/><text class="c" x="746.5" y="746">IL22RA2</text><text class="c" x="746.5" y="762">?</text></g>
<g id="IL28R-cx"><rect x="728" y="781" width="37" height="16"/><rect x="728" y="797" width="37" height="16"/><text class="c" x="746.5" y="793">IL28RA</text><text class="c" x="746.5" y="809">IL10RB</text></g>
</g>
<g id="tnf-ligands">
<g id="TNFSF15"><rect x="820" y="55" width="35" height="16"/><text class="n" x="837.5" y="67">TNFSF15</text></g>
<g id="TNFSF10"><rect x="820" y="98" width="35" height="16"/><text class="n" x="837.5" y="110">TNFSF10</text></g>
<g id="TNFSF11"><rect x="820" y="197" width="35" height="16"/><text class="n" x="837.5" y="209">TNFSF11</text></g>
<g id="TNFSF12"><rect x="820" y="240" width="35" height="16"/><text class="n" x="837.5" y="252">TNFSF12</text></g>
<g id="TNF"><rect x="820" y="325" width="35" height="16"/><text class="c" x="837.5" y="337">TNF</text></g>
<g id="LTA"><rect class="tan" x="820" y="350" width="35" height="16"/><text class="c" x="837.5" y="362">LTA</text></g>
<g id="LTB"><rect x="820" y="375" width="35" height="16"/><text class="c" x="837.5" y="387">LTB</text></g>
<g id="TNFSF14"><rect x="820" y="409" width="35" height="16"/><text class="n" x="837.5" y="421">TNFSF14</text></g>
<g id="FASLG"><rect x="820" y="469" width="35" height="16"/><text class="n" x="837.5" y="481">FASLG</text></g>
<g id="CD40LG"><rect x="820" y="507" width="35" height="16"/><text class="n" x="837.5" y="519">CD40LG</text></g>
<g id="TNFSF7"><rect x="820" y="529" width="35" height="16"/><text class="n" x="837.5" y="541">TNFSF7</text></g>
<g id="TNFSF8"><rect x="820" y="550" width="35" height="16"/><text class="n" x="837.5" y="562">TNFSF8</text></g>
<g id="TNFSF9"><rect x="820" y="572" width="35" height="16"/><text class="n" x="837.5" y="584">TNFSF9</text></g>
<g id="TNFSF4"><rect x="820" y="595" width="35" height="16"/><text class="n" x="837.5" y="607">TNFSF4</text></g>
<g id="TNFSF18"><rect x="820" y="618" width="35" height="16"/><text class="n" x="837.5" y="630">TNFSF18</text></g>
<g id="TNFSF13"><rect x="820" y="666" width="35" height="16"/><text class="n" x="837.5" y="678">TNFSF13</text></g>
<g id="TNFSF13B"><rect x="820" y="690" width="35" height="16"/><text class="n" x="837.5" y="702">TNFSF13B</text></g>
<g id="EDA-1"><rect x="819" y="740" width="38" height="16"/><text class="c" x="838" y="752">EDA</text></g>
<g id="EDA-2"><rect x="819" y="771" width="38" height="16"/><text class="c" x="838" y="783">EDA</text></g>
</g>
<g id="tnf-receptors">
<g id="SF10A"><rect x="887" y="55" width="36" height="16"/><text class="c" x="905" y="67">SF10A</text></g>
<g id="SF10B"><rect x="887" y="79" width="36" height="16"/><text class="c" x="905" y="91">SF10B</text></g>
<g id="SF10C"><rect x="887" y="101" width="36" height="16"/><text class="c" x="905" y="113">SF10C</text></g>
<g id="SF10D"><rect x="887" y="123" width="36" height="16"/><text class="c" x="905" y="135">SF10D</text></g>
<g id="SF11B"><rect x="887" y="160" width="36" height="16"/><text class="c" x="905" y="172">SF11B</text></g>
<g id="SF11A"><rect x="887" y="197" width="36" height="16"/><text class="c" x="905" y="209">SF11A</text></g>
<g id="SF25"><rect x="887" y="219" width="36" height="16"/><text class="c" x="905" y="231">SF25</text></g>
<g id="SF12A"><rect x="887" y="241" width="36" height="16"/><text class="c" x="905" y="253">SF12A</text></g>
<g id="SF21"><rect x="887" y="264" width="36" height="16"/><text class="c" x="905" y="276">SF21</text></g>
<g id="NGFR"><rect x="887" y="289" width="36" height="16"/><text class="c" x="905" y="301">NGFR</text></g>
<g id="SF1B"><rect x="887" y="318" width="36" height="16"/><text class="c" x="905" y="330">SF1B</text></g>
<g id="SF1A"><rect x="887" y="341" width="36" height="16"/><text class="c" x="905" y="353">SF1A</text></g>
<g id="LTBR"><rect x="887" y="367" width="36" height="16"/><text class="c" x="905" y="379">LTBR</text></g>
<g id="SF14"><rect x="887" y="391" width="36" height="16"/><text class="c" x="905" y="403">SF14</text></g>
<g id="SF6B"><rect x="887" y="431" width="36" height="16"/><text class="c" x="905" y="443">SF6B</text></g>
<g id="FAS"><rect x="887" y="469" width="36" height="16"/><text class="c" x="905" y="481">FAS</text></g>
<g id="CD40"><rect x="887" y="507" width="36" height="16"/><text class="c" x="905" y="519">CD40</text></g>
<g id="SF7"><rect x="887" y="529" width="36" height="16"/><text class="c" x="905" y="541">SF7</text></g>
<g id="SF8"><rect class="tan" x="887" y="550" width="36" height="16"/><text class="c" x="905" y="562">SF8</text></g>
<g id="SF9"><rect x="887" y="572" width="36" height="16"/><text class="c" x="905" y="584">SF9</text></g>
<g id="SF4"><rect x="887" y="595" width="36" height="16"/><text class="c" x="905" y="607">SF4</text></g>
<g id="SF18"><rect x="887" y="618" width="36" height="16"/><text class="c" x="905" y="630">SF18</text></g>
<g id="SF17"><rect x="887" y="653" width="36" height="16"/><text class="c" x="905" y="665">SF17</text></g>
<g id="SF13B"><rect x="887" y="679" width="36" height="16"/><text class="c" x="905" y="691">SF13B</text></g>
<g id="SF13C"><rect x="887" y="704" width="36" height="16"/><text class="c" x="905" y="716">SF13C</text></g>
<g id="EDAR"><rect x="887" y="741" width="36" height="16"/><text class="c" x="905" y="753">EDAR</text></g>
<g id="XEDAR"><rect x="887" y="772" width="36" height="16"/><text class="c" x="905" y="784">XEDAR</text></g>
<g id="SF19"><rect x="887" y="799" width="36" height="16"/><text class="c" x="905" y="811">SF19</text></g>
<g id="SF19L"><rect x="887" y="821" width="36" height="16"/><text class="c" x="905" y="833">SF19L</text></g>
</g>
<g id="tgf-il1-ligands">
<g id="TGFB1"><rect x="981" y="54" width="37" height="16"/><text class="c" x="999.5" y="66">TGFB1</text></g>
<g id="TGFB2"><rect x="981" y="75" width="37" height="16"/><text class="c" x="999.5" y="87">TGFB2</text></g>
<g id="TGFB3"><rect x="981" y="96" width="37" height="16"/><text class="c" x="999.5" y="108">TGFB3</text></g>
<g id="INHBA"><rect x="981" y="160" width="37" height="16"/><text class="c" x="999.5" y="172">INHBA</text></g>
<g id="INHBB"><rect x="981" y="181" width="37" height="16"/><text class="c" x="999.5" y="193">INHBB</text></g>
<g id="INHBC"><rect x="981" y="202" width="37" height="16"/><text class="c" x="999.5" y="214">INHBC</text></g>
<g id="INHBE"><rect x="981" y="223" width="37" height="16"/><text class="c" x="999.5" y="235">INHBE</text></g>
<g id="AMH"><rect x="981" y="312" width="37" height="16"/><text class="c" x="999.5" y="324">AMH</text></g>
<g id="BMP2"><rect x="981" y="413" width="37" height="16"/><text class="c" x="999.5" y="425">BMP2</text></g>
<g id="BMP7"><rect x="981" y="512" width="37" height="16"/><text class="c" x="999.5" y="524">BMP7</text></g>
<g id="GDF5"><rect x="981" y="574" width="37" height="16"/><text class="c" x="999.5" y="586">GDF5</text></g>
<g id="IL1A"><rect x="981" y="705" width="37" height="16"/><text class="c" x="999.5" y="717">IL1A</text></g>
<g id="IL1B"><rect x="981" y="728" width="37" height="16"/><text class="c" x="999.5" y="740">IL1B</text></g>
<g id="IL18"><rect x="981" y="795" width="37" height="16"/><text class="c" x="999.5" y="807">IL18</text></g>
</g>
<g id="tgf-il1-receptors">
<g id="TGFBR-cx"><rect x="1047" y="65" width="36" height="16"/><rect x="1047" y="81" width="36" height="16"/><text class="c" x="1065" y="77">TGFBR2</text><text class="c" x="1065" y="93">TGFBR1</text><text class="l" x="1090" y="77">Type II</text><text class="l" x="1090" y="93">Type I</text></g>
<g id="ACVR-cx1"><rect x="1047" y="123" width="36" height="16"/><rect x="1047" y="139" width="36" height="16"/><text class="c" x="1065" y="135">ACVR2</text><text class="c" x="1065" y="151">ACVR1</text><text class="l" x="1090" y="135">Type II</text><text class="l" x="1090" y="151">Type I</text></g>
<g id="ACVR-cx2"><rect x="1047" y="164" width="36" height="16"/><rect x="1047" y="180" width="36" height="16"/><text class="c" x="1065" y="176">ACVR2</text><text class="c" x="1065" y="192">ACVR1B</text><text class="l" x="1090" y="176">Type II</text><text class="l" x="1090" y="192">Type I</text></g>
<g id="ACVR-cx3"><rect x="1047" y="203" width="36" height="16"/><rect x="1047" y="219" width="36" height="16"/><text class="c" x="1065" y="215">ACVR2B</text><text class="c" x="1065" y="231">ACVR1</text><text class="l" x="1090" y="215">Type II</text><text class="l" x="1090" y="231">Type I</text></g>
<g id="ACVR-cx4"><rect x="1047" y="241" width="36" height="16"/><rect x="1047" y="257" width="36" height="16"/><text class="c" x="1065" y="253">ACVR2B</text><text class="c" x="1065" y="269">ACVR1B</text><text class="l" x="1090" y="253">Type II</text><text class="l" x="1090" y="269">Type I</text></g>
<g id="AMHR-cx"><rect x="1047" y="303" width="36" height="16"/><rect x="1047" y="319" width="36" height="16"/><text class="c" x="1065" y="315">AMHR2</text><text class="c" x="1065" y="331">ACVR1?</text><text class="l" x="1090" y="315">Type II</text><text class="l" x="1090" y="331">Type I?</text></g>
<g id="BMPR-cx1"><rect x="1047" y="368" width="36" height="16"/><rect x="1047" y="384" width="36" height="16"/><text class="c" x="1065" y="380">BMPR2</text><text class="c" x="1065" y="396">ACVR1</text><text class="l" x="1090" y="380">Type II</text><text class="l" x="1090" y="396">Type I</text></g>
<g id="BMPR-cx2"><rect x="1047" y="405" width="36" height="16"/><rect x="1047" y="421" width="36" height="16"/><text class="c" x="1065" y="417">BMPR2</text><text class="c" x="1065" y="433">BMPR1B</text><text class="l" x="1090" y="417">Type II</text><text class="l" x="1090" y="433">Type I</text></g>
<g id="BMPR-cx3"><rect x="1047" y="444" width="36" height="16"/><rect x="1047" y="460" width="36" height="16"/><text class="c" x="1065" y="456">BMPR2</text><text class="c" x="1065" y="472">BMPR1A</text><text class="l" x="1090" y="456">Type II</text><text class="l" x="1090" y="472">Type I</text></g>
<g id="BMPR-cx4"><rect x="1047" y="504" width="36" height="16"/><rect x="1047" y="520" width="36" height="16"/><text class="c" x="1065" y="516">ACVR2</text><text class="c" x="1065" y="532">BMPR1B</text><text class="l" x="1090" y="516">Type II</text><text class="l" x="1090" y="532">Type I</text></g>
<g id="BMPR-cx5"><rect x="1047" y="566" width="36" height="16"/><rect x="1047" y="582" width="36" height="16"/><text class="c" x="1065" y="578">ACVR2</text><text class="c" x="1065" y="594">BMPR1A</text><text class="l" x="1090" y="578">Type II</text><text class="l" x="1090" y="594">Type I</text></g>
<g id="IL1R-cx1"><rect x="1047" y="686" width="36" height="16"/><rect x="1047" y="702" width="36" height="16"/><text class="c" x="1065" y="698">IL1R1</text><text class="c" x="1065" y="714">IL1RAP</text></g>
<g id="IL1R-cx2"><rect x="1047" y="728" width="36" height="16"/><rect x="1047" y="744" width="36" height="16"/><text class="c" x="1065" y="740">IL1R2</text><text class="c" x="1065" y="756">IL1RAP</text></g>
<g id="IL18R-cx"><rect x="1047" y="787" width="36" height="16"/><rect x="1047" y="803" width="36" height="16"/><text class="c" x="1065" y="799">IL18R1</text><text class="c" x="1065" y="815">IL18RAP</text></g>
</g>
<g id="il17-ligands">
<g id="IL17E"><rect x="1140" y="63" width="37" height="16"/><text class="c" x="1158.5" y="75">IL17E</text></g>
<g id="IL17A"><rect x="1140" y="122" width="37" height="16"/><text class="c" x="1158.5" y="134">IL17A</text></g>
<g id="IL17F"><rect x="1140" y="148" width="37" height="16"/><text class="c" x="1158.5" y="160">IL17F</text></g>
<g id="IL17C"><rect x="1140" y="210" width="37" height="16"/><text class="c" x="1158.5" y="222">IL17C</text></g>
<g id="IL17B"><rect x="1140" y="287" width="37" height="16"/><text class="c" x="1158.5" y="299">IL17B</text></g>
<g id="IL17D"><rect x="1140" y="355" width="37" height="16"/><text class="c" x="1158.5" y="367">IL17D</text></g>
</g>
<g id="il17-receptors">
<g id="IL17R-cx1"><rect x="1207" y="55" width="36" height="16"/><rect x="1207" y="71" width="36" height="16"/><text class="c" x="1225" y="67">IL17RA</text><text class="c" x="1225" y="83">IL17RB</text></g>
<g id="IL17R-cx2"><rect x="1207" y="127" width="36" height="16"/><rect x="1207" y="143" width="36" height="16"/><text class="c" x="1225" y="139">IL17RA</text><text class="c" x="1225" y="155">IL17RC</text></g>
<g id="IL17R-cx3"><rect x="1207" y="202" width="36" height="16"/><rect x="1207" y="218" width="36" height="16"/><text class="c" x="1225" y="214">IL17RA</text><text class="c" x="1225" y="230">IL17RE</text></g>
<g id="IL17R-cx4"><rect x="1207" y="279" width="36" height="16"/><rect x="1207" y="295" width="36" height="16"/><text class="c" x="1225" y="291">IL17RB</text><text class="c" x="1225" y="307">IL17RB</text></g>
<g id="IL17DR"><rect x="1207" y="355" width="36" height="16"/><text class="c" x="1225" y="367">?</text></g>
</g>
</svg>
